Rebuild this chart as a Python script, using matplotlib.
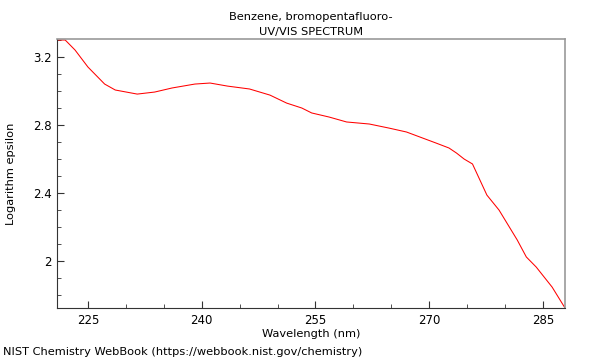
import numpy as np
import matplotlib.pyplot as plt
from matplotlib.ticker import MultipleLocator

# spectrum
wavelength = [220.9, 222.0, 223.3, 225.0, 227.2, 228.6, 231.5, 233.8, 236.1, 239.1,
              241.1, 243.4, 246.3, 249.0, 251.2, 253.2, 254.5, 256.8, 259.1, 262.1,
              264.7, 267.0, 269.1, 270.9, 272.6, 273.6, 274.6, 275.7, 277.6, 279.2,
              281.6, 282.8, 284.1, 286.2, 287.9]
log_eps = [3.300, 3.300, 3.241, 3.141, 3.041, 3.006, 2.982, 2.994, 3.018, 3.041,
           3.047, 3.029, 3.012, 2.976, 2.929, 2.900, 2.871, 2.847, 2.818, 2.806,
           2.782, 2.759, 2.724, 2.694, 2.665, 2.635, 2.600, 2.571, 2.388, 2.300,
           2.124, 2.024, 1.965, 1.847, 1.724]

xticks = [225, 240, 255, 270, 285]
yticks = [2.0, 2.4, 2.8, 3.2]
ylabels = ['2', '2.4', '2.8', '3.2']

fs = 8.2
fig = plt.figure(figsize=(6, 3.6), dpi=100)
ax = fig.add_axes([0.095, 0.1444, 0.8467, 0.7473])
ax.plot(wavelength, log_eps, color='red', lw=0.75)
ax.set_xlim(220.92, 287.9)
ax.set_ylim(1.724, 3.306)

ax.set_xticks(xticks)
ax.set_yticks(yticks)
ax.set_yticklabels(ylabels)
ax.xaxis.set_minor_locator(MultipleLocator(5))
ax.yaxis.set_minor_locator(MultipleLocator(0.1))
ax.tick_params(which='both', direction='in', labelsize=8.5, color='#333333', pad=4)
ax.tick_params(which='major', length=5)
ax.tick_params(which='minor', length=3)

for s in ['left', 'bottom']:
    ax.spines[s].set_color('#333333')
for s in ['top', 'right']:
    ax.spines[s].set_color('#999999')
    ax.spines[s].set_linewidth(1.2)

ax.set_xlabel('Wavelength (nm)', fontsize=fs, labelpad=2)
ax.set_ylabel('Logarithm epsilon', fontsize=fs, labelpad=12)
ax.set_title('Benzene, bromopentafluoro-\nUV/VIS SPECTRUM', fontsize=fs, linespacing=1.6, pad=3)
fig.text(0.005, 0.015, 'NIST Chemistry WebBook (https://webbook.nist.gov/chemistry)', fontsize=fs)

fig.savefig('out.png', dpi=100)
